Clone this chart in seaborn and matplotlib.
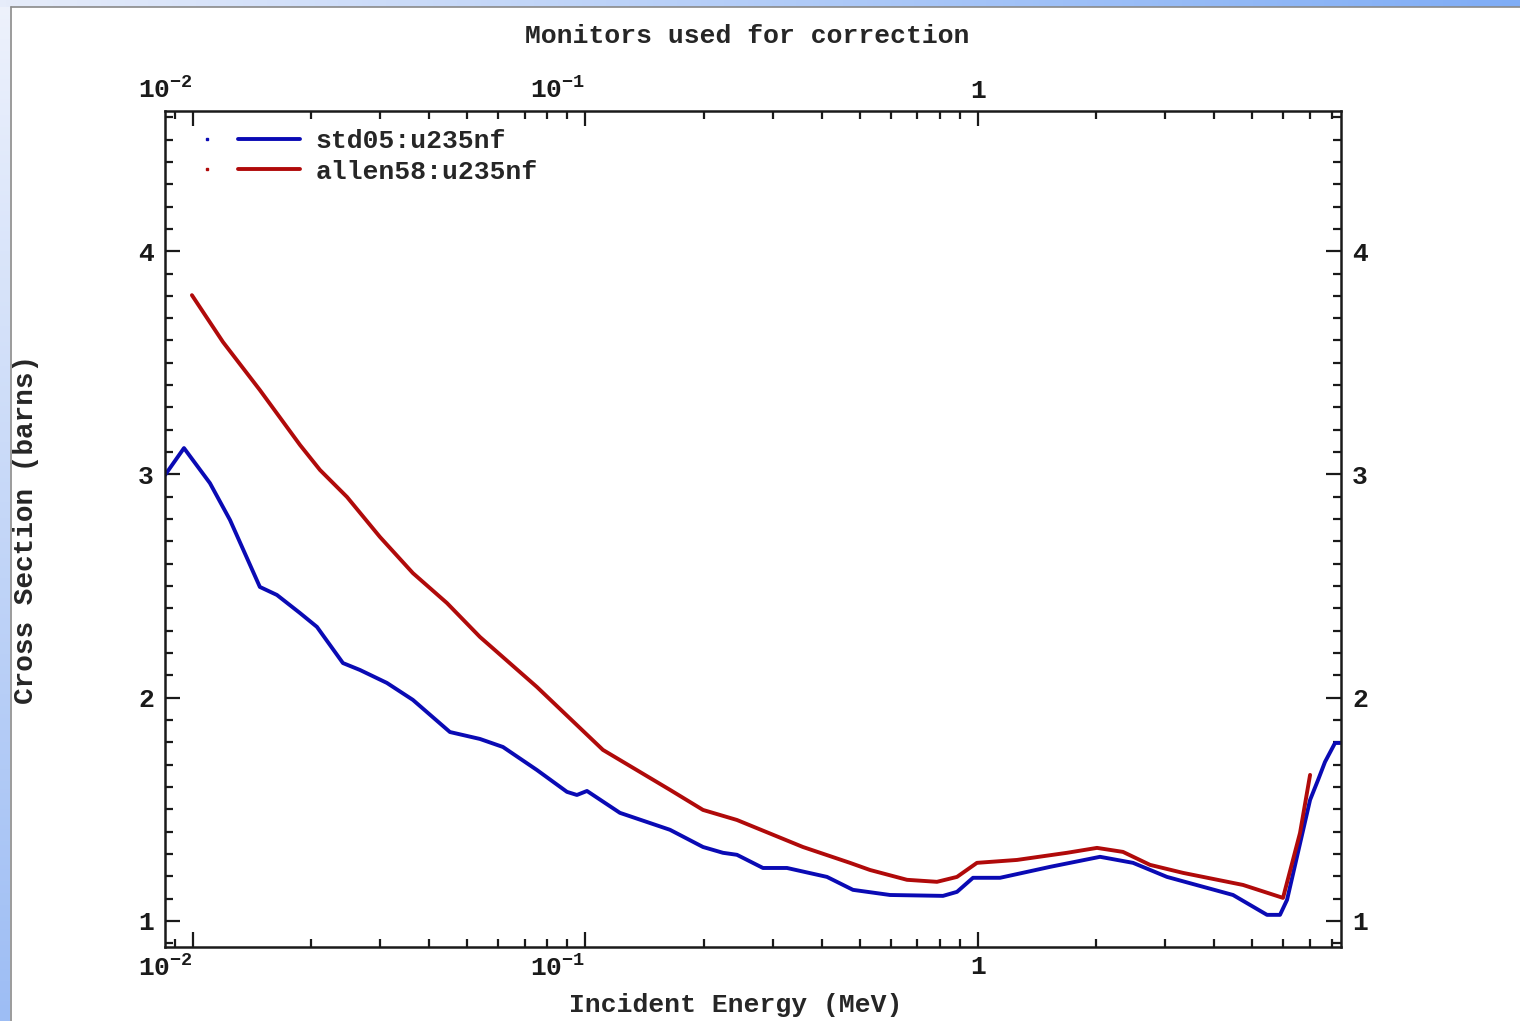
import numpy as np
import pandas as pd
import matplotlib
matplotlib.use("Agg")
import matplotlib.pyplot as plt
import seaborn as sns
from matplotlib.lines import Line2D
from matplotlib.legend_handler import HandlerTuple
from matplotlib.ticker import FixedLocator, MultipleLocator, LogLocator, NullFormatter
from matplotlib.colors import LinearSegmentedColormap

# ---------------- data ----------------
std05_energy = [0.00849, 0.00949, 0.01105, 0.01243, 0.01481, 0.01637, 0.01874, 0.02070,
                0.02411, 0.02664, 0.03120, 0.03634, 0.04516, 0.05385, 0.06164, 0.07521,
                0.08972, 0.09512, 0.1009, 0.1224, 0.1642, 0.1993, 0.2240, 0.2432, 0.2833,
                0.3262, 0.4124, 0.4803, 0.5969, 0.8144, 0.8841, 0.9711, 1.138, 1.526,
                2.046, 2.483, 3.030, 4.464, 5.449, 5.880, 6.128, 7.015, 7.35, 7.656,
                8.121, 8.41]
std05_xs = [2.997, 3.118, 2.961, 2.796, 2.496, 2.460, 2.379, 2.317,
            2.155, 2.124, 2.066, 1.990, 1.846, 1.815, 1.779, 1.676,
            1.578, 1.564, 1.582, 1.484, 1.408, 1.331, 1.305, 1.296, 1.237,
            1.237, 1.197, 1.139, 1.116, 1.112, 1.130, 1.193, 1.193, 1.242,
            1.287, 1.260, 1.197, 1.116, 1.027, 1.027, 1.094, 1.542, 1.631, 1.712,
            1.797, 1.797]

allen58_energy = [0.009942, 0.01193, 0.01481, 0.01874, 0.02107, 0.02469, 0.02995, 0.03634,
                  0.04437, 0.05385, 0.07521, 0.1108, 0.1642, 0.1993, 0.2432, 0.3581,
                  0.4719, 0.5308, 0.6594, 0.7862, 0.8841, 0.994, 1.257, 1.686, 2.010,
                  2.341, 2.743, 3.330, 4.733, 5.985, 6.613, 7.015]
allen58_xs = [3.803, 3.593, 3.378, 3.132, 3.020, 2.899, 2.720, 2.558,
              2.424, 2.272, 2.048, 1.766, 1.587, 1.497, 1.452, 1.331,
              1.260, 1.228, 1.184, 1.175, 1.197, 1.260, 1.273, 1.305, 1.327,
              1.309, 1.251, 1.215, 1.161, 1.103, 1.394, 1.654]

series_names = ["std05:u235nf", "allen58:u235nf"]
series_colors = ["#0a0ab4", "#b00a0a"]

x_ticks = [0.01, 0.1, 1]
x_tick_labels = [r"$10^{-2}$", r"$10^{-1}$", "1"]
y_ticks = [1, 2, 3, 4]
y_tick_labels = ["1", "2", "3", "4"]

title_text = "Monitors used for correction"
x_label = "Incident Energy (MeV)"
y_label = "Cross Section (barns)"

# ---------------- style ----------------
sns.set_style("ticks")
FONT = ["Liberation Mono", "DejaVu Sans Mono", "DejaVu Sans"]
plt.rcParams["font.family"] = FONT
plt.rcParams["font.weight"] = "bold"
plt.rcParams["mathtext.fontset"] = "custom"
plt.rcParams["mathtext.rm"] = "Liberation Mono:bold"
plt.rcParams["mathtext.it"] = "Liberation Mono:bold"
plt.rcParams["mathtext.bf"] = "Liberation Mono:bold"
plt.rcParams["axes.unicode_minus"] = True

W, H = 1520, 1021
fig = plt.figure(figsize=(W / 100, H / 100), dpi=100)
fig.patch.set_facecolor("white")

# screenshot frame decoration (left and top gradient strips)
left_cmap = LinearSegmentedColormap.from_list("l", ["#eef2fc", "#9dbdf4"])
top_cmap = LinearSegmentedColormap.from_list("t", ["#e6ecfa", "#7fadf6"])
axl = fig.add_axes([0, 0, 10 / W, 1])
axl.imshow(np.linspace(0, 1, 256).reshape(-1, 1), cmap=left_cmap, aspect="auto")
axl.axis("off")
axt = fig.add_axes([0, 1 - 7 / H, 1, 7 / H])
axt.imshow(np.linspace(0, 1, 256).reshape(1, -1), cmap=top_cmap, aspect="auto")
axt.axis("off")
fig.add_artist(Line2D([10.5 / W, 10.5 / W], [0, 1 - 7 / H], transform=fig.transFigure,
                      color="#8a8a8a", lw=1.2))
fig.add_artist(Line2D([10.5 / W, 1], [1 - 7.5 / H, 1 - 7.5 / H], transform=fig.transFigure,
                      color="#8a8a8a", lw=1.2))

# main axes
x0, x1, y0, y1 = 165, 1341, 111, 947
ax = fig.add_axes([x0 / W, 1 - y1 / H, (x1 - x0) / W, (y1 - y0) / H])

df = pd.concat([
    pd.DataFrame({"E": std05_energy, "xs": std05_xs, "set": series_names[0]}),
    pd.DataFrame({"E": allen58_energy, "xs": allen58_xs, "set": series_names[1]}),
])
sns.lineplot(data=df, x="E", y="xs", hue="set", palette=dict(zip(series_names, series_colors)),
             estimator=None, sort=False, lw=2.8, ax=ax, legend=False)

ax.set_xscale("log")
ax.set_xlim(0.00849, 8.41)
ax.set_ylim(0.883, 4.628)

ax.xaxis.set_major_locator(FixedLocator(x_ticks))
ax.set_xticklabels(x_tick_labels)
ax.xaxis.set_minor_locator(LogLocator(base=10, subs=np.arange(2, 10)))
ax.xaxis.set_minor_formatter(NullFormatter())
ax.yaxis.set_major_locator(FixedLocator(y_ticks))
ax.set_yticklabels(y_tick_labels)
ax.yaxis.set_minor_locator(MultipleLocator(0.1))

ax.tick_params(which="both", direction="in", top=True, right=True, labeltop=True,
               labelright=True, colors="#1a1a1a", width=1.6, labelsize=19)
ax.tick_params(which="major", length=10.5)
ax.tick_params(which="minor", length=5.5)
ax.tick_params(axis="x", pad=6)
ax.tick_params(axis="y", pad=8)
for s in ax.spines.values():
    s.set_linewidth(1.8)
    s.set_color("#1a1a1a")

for t in ax.xaxis.get_major_ticks():
    if t.label1.get_text() != "1":
        t.label1.set_horizontalalignment("right")
        t.label2.set_horizontalalignment("right")

ax.set_xlabel(x_label, fontsize=19, fontweight="bold")
ax.xaxis.set_label_coords((736 - x0) / (x1 - x0), -(993 - y1) / (y1 - y0))
ax.set_ylabel(y_label, fontsize=20, fontweight="bold")
ax.yaxis.set_label_coords((39 - x0) / (x1 - x0), 0.5)
fig.text((747) / W, 1 - 36 / H, title_text, ha="center", va="center",
         fontsize=19, fontweight="bold")

# legend: small dot + line per series
handles = []
for name, c in zip(series_names, series_colors):
    dot = Line2D([], [], ls="none", marker="s", ms=1.6, color=c)
    line = Line2D([], [], color=c, lw=2.8)
    handles.append((dot, line))
leg = ax.legend(handles, series_names, handler_map={tuple: HandlerTuple(ndivide=None, pad=0.0)},
                loc="upper left", bbox_to_anchor=(11 / (x1 - x0), 1 - 18 / (y1 - y0)),
                frameon=False, fontsize=19, handlelength=4.7, handletextpad=0.6,
                labelspacing=0.25, borderaxespad=0.0, borderpad=0.0)

fig.savefig("out.png", dpi=100, facecolor="white")
